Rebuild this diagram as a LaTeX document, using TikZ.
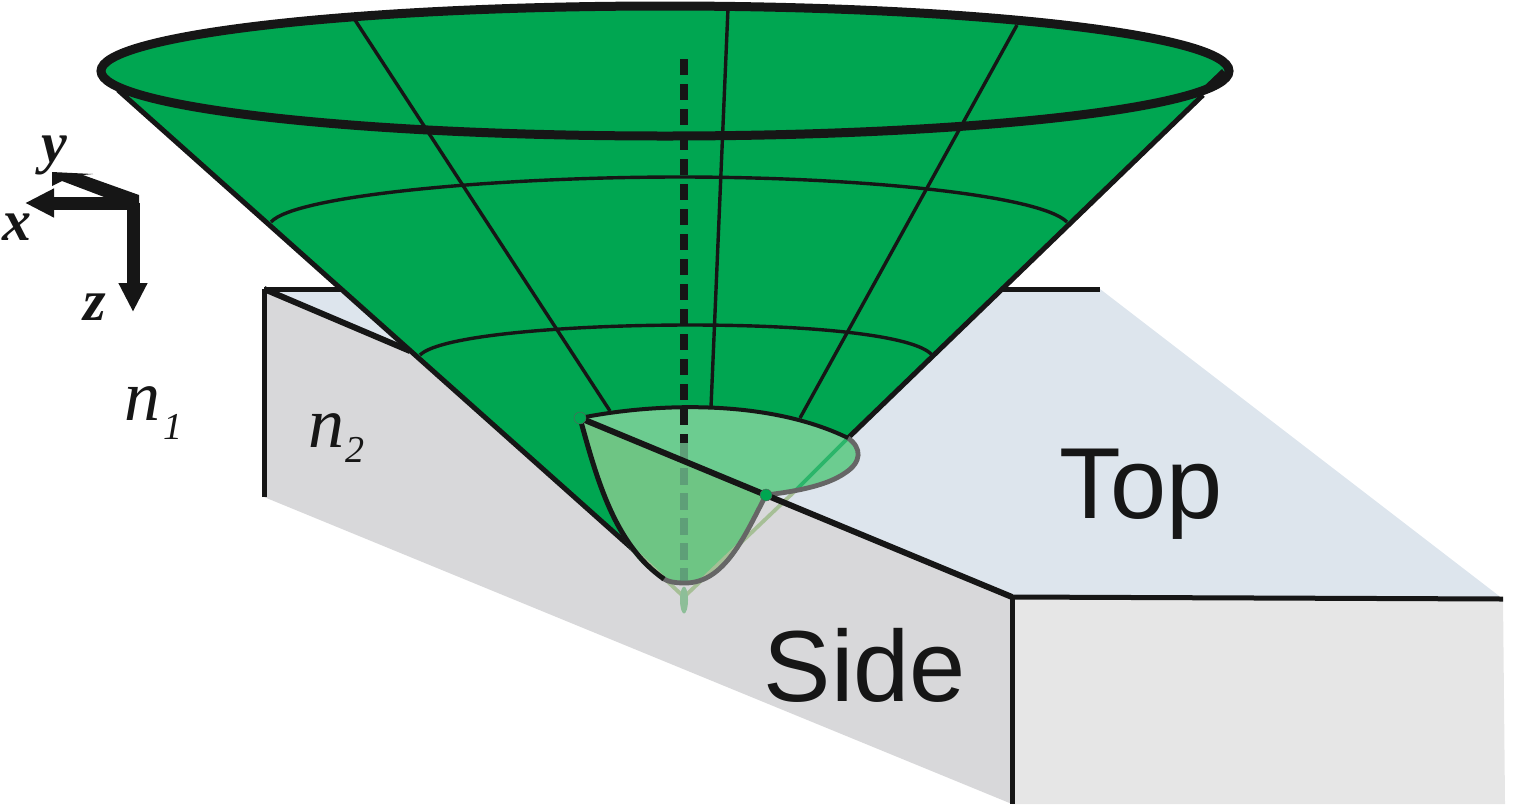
\documentclass[tikz,border=0pt]{standalone}
\usepackage{fontspec}
\setmainfont{Liberation Sans}
\newfontfamily\mathserif{Liberation Serif}
\usetikzlibrary{arrows.meta}
\definecolor{conegreen}{HTML}{00A651}
\definecolor{topblue}{HTML}{DDE5ED}
\definecolor{sidegray}{HTML}{D8D8DA}
\definecolor{frontgray}{HTML}{E6E6E6}
\definecolor{cutupper}{HTML}{6CCC90}
\definecolor{cutlower}{HTML}{6EC584}
\definecolor{inkblack}{HTML}{161616}
\definecolor{tipfaint}{HTML}{A6BF96}
\definecolor{cutdash}{HTML}{5E9F78}
\definecolor{tipdot}{HTML}{8DBE98}
\tikzset{
  edge/.style = {draw=inkblack, line width=2.5pt},
  thinedge/.style = {draw=inkblack, line width=1.7pt},
  faded/.style = {draw=#1, line width=1.9pt},
  axisdash/.style = {line width=4pt, dash pattern=on 8pt off 4.5pt},
  dot/.style = {circle, fill=conegreen, draw=inkblack!70, line width=0.2pt, inner sep=0pt, minimum size=#1},
  facelabel/.style = {text=inkblack, font=\fontsize{50.5}{50.5}\selectfont, inner sep=0pt},
  axislabel/.style = {text=inkblack, font=\fontsize{29}{29}\mathserif\bfseries\itshape, inner sep=0pt},
  indexlabel/.style = {text=inkblack, font=\fontsize{36}{36}\mathserif\itshape, inner sep=0pt},
  subindex/.style = {text=inkblack, font=\fontsize{19}{19}\mathserif\itshape, inner sep=0pt},
  axisarrow/.style = {draw=inkblack, line width=6.5pt, -{Triangle[length=14.5pt, width=13.5pt]}}
}
\begin{document}
\begin{tikzpicture}[x=0.5pt, y=-0.5pt]
\useasboundingbox (0,0) rectangle (1534,804);
\coordinate (c1) at (264,289);
\coordinate (c2) at (1100,289);
\coordinate (c3) at (1503,599);
\coordinate (c4) at (1012,597);
\coordinate (c5) at (1012,804);
\coordinate (c6) at (264,497);
\coordinate (c7) at (1505,804);
\coordinate (apex) at (684,597);
\coordinate (cutl) at (580,418);
\coordinate (cutr) at (766,495);
\coordinate (rimr) at (848,438);
\coordinate (edgel) at (118,90);
\coordinate (edger) at (1203,95);
\coordinate (paral) at (636,552);
% faces
\fill[topblue] (c1) -- (c2) -- (c3) -- (c4) -- cycle;
\fill[sidegray] (c1) -- (c4) -- (c5) -- (c6) -- cycle;
\fill[frontgray] (c4) -- (c3) -- (c7) -- (c5) -- cycle;
\draw[edge] (c1) -- (c2);
\draw[edge] (c6) -- (c1);
% cone
\fill[conegreen] (edgel) -- (paral) .. controls (610,510) and (590,460) .. (cutl)
  .. controls (660,402) and (770,400) .. (rimr) -- (edger) -- cycle;
\fill[conegreen] (665,71) ellipse [x radius=564, y radius=65];
\draw[edge] (edgel) -- (paral);
\draw[edge] (rimr) -- (edger);
\draw[thinedge] (355,20) -- (610,411);
\draw[thinedge] (728,8) -- (711,407);
\draw[thinedge] (1017,25) -- (800,418);
\draw[thinedge] (271,222) .. controls (295,195) and (500,177) .. (680,177)
  .. controls (860,177) and (1040,195) .. (1067,222);
\draw[thinedge] (420,355) .. controls (440,335) and (570,325) .. (690,325)
  .. controls (810,325) and (915,335) .. (932,355);
\draw[inkblack, line width=4.5pt] (665,71) ellipse [x radius=564, y radius=65];
\fill[inkblack] (1222,69) -- (1229,78) -- (1198,92) -- cycle;
\draw[axisdash, inkblack] (684,59) -- (684,443);
% cut through the cone
\fill[cutupper] (cutl) .. controls (660,402) and (770,400) .. (rimr)
  .. controls (862,448) and (862,462) .. (845,473)
  .. controls (825,487) and (790,492) .. (cutr) -- cycle;
\fill[cutlower] (cutl) .. controls (600,490) and (625,583) .. (685,583)
  .. controls (725,583) and (745,535) .. (cutr) -- cycle;
\draw[inkblack, axisdash] (684,384) -- (684,443);
\draw[draw=cutdash, axisdash, dash pattern=on 8.5pt off 4pt] (684,443) -- (684,583);
\draw[faded=tipfaint] (paral) -- (apex) -- (795,491);
\draw[faded=conegreen!60!cutupper] (795,491) -- (rimr);
\fill[tipdot] (684,600) ellipse [x radius=4, y radius=13.5];
\draw[line width=2.4pt, draw=black!60!white] (rimr) .. controls (862,448) and (862,462) .. (845,473)
  .. controls (825,487) and (790,492) .. (cutr);
\draw[line width=2.4pt, draw=black!60!white] (662,578) .. controls (668,582) and (676,583) .. (685,583)
  .. controls (725,583) and (745,535) .. (cutr);
\draw[thinedge, line width=2pt] (cutl) .. controls (660,402) and (770,400) .. (rimr);
\draw[edge] (cutl) .. controls (597,480) and (615,545) .. (664,579);
\draw[edge, line width=3pt] (cutl) -- (c4);
\draw[edge, line width=3pt] (c1) -- (410,351);
\draw[edge] (c4) -- (c3);
\draw[edge] (c4) -- (c5);
\node[dot=6pt] (cutldot) at (cutl) {};
\node[dot=6pt] (cutrdot) at (cutr) {};
% coordinate axes
\coordinate (orig) at (133,203);
\coordinate (xend) at (25,203);
\coordinate (zend) at (133,312);
\draw[axisarrow] (139,203) -- (xend);
\draw[axisarrow] (orig) -- (zend);
\fill[inkblack] (139,195) -- (139,208) -- (112,200) -- (62,181) -- (52,186) -- (52,172)
  -- (93,174) -- (83,175) -- cycle;
\node[axislabel] (xlabel) at (17,227) {x};
\node[axislabel] (ylabel) at (54,155) {y};
\node[axislabel] (zlabel) at (95,307) {z};
\node[indexlabel] (none) at (142,404) {n};
\node[subindex] (nonesub) at (173,427) {1};
\node[indexlabel] (ntwo) at (326,431) {n};
\node[subindex] (ntwosub) at (355,450) {2};
\node[facelabel] (toplabel) at (1141,494) {Top};
\node[facelabel] (sidelabel) at (865,665) {Side};
\end{tikzpicture}
\end{document}
